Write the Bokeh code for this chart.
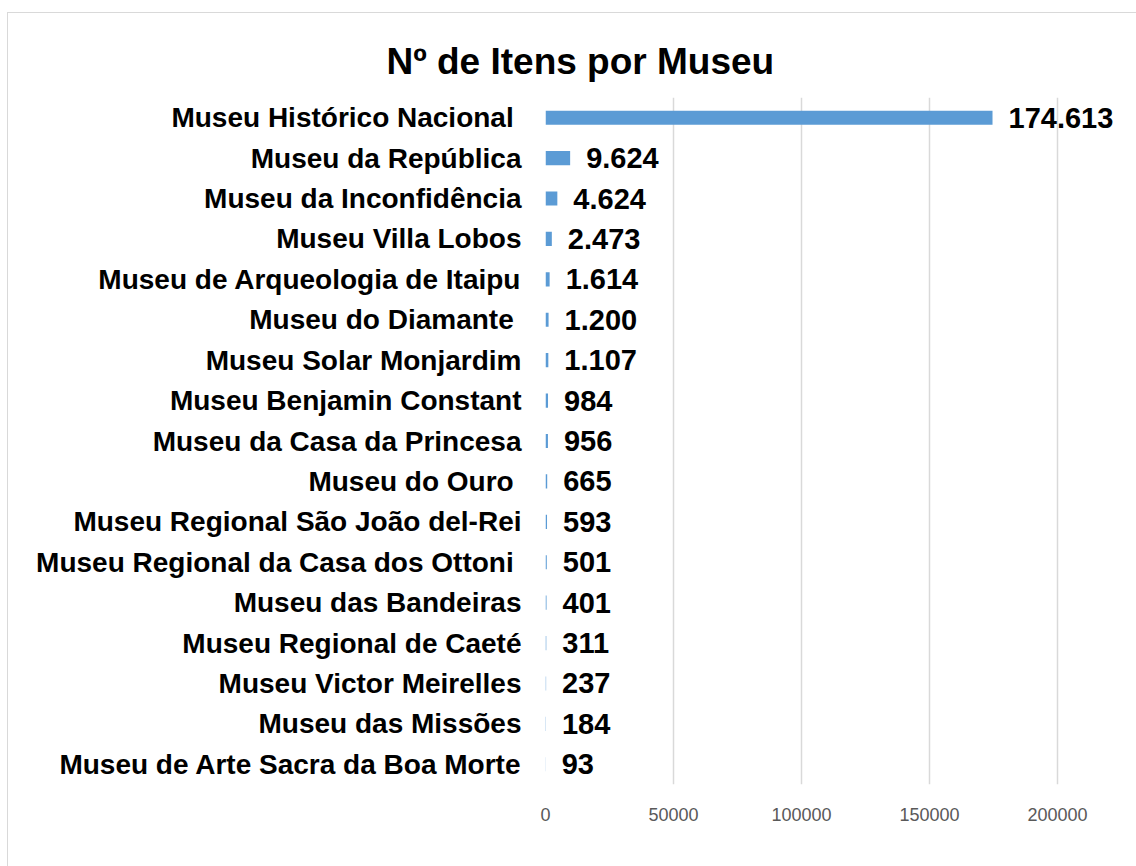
from bokeh.plotting import figure
from bokeh.models import FactorRange, Range1d, FixedTicker, ColumnDataSource, BasicTickFormatter
from bokeh.core.properties import value
from bokeh.embed import file_html
from bokeh.resources import INLINE

museums = [
    "Museu Histórico Nacional\u00a0",
    "Museu da República",
    "Museu da Inconfidência",
    "Museu Villa Lobos",
    "Museu de Arqueologia de Itaipu",
    "Museu do Diamante\u00a0",
    "Museu Solar Monjardim",
    "Museu Benjamin Constant",
    "Museu da Casa da Princesa",
    "Museu do Ouro\u00a0",
    "Museu Regional São João del-Rei",
    "Museu Regional da Casa dos Ottoni\u00a0",
    "Museu das Bandeiras",
    "Museu Regional de Caeté",
    "Museu Victor Meirelles",
    "Museu das Missões",
    "Museu de Arte Sacra da Boa Morte",
]
items = [174613, 9624, 4624, 2473, 1614, 1200, 1107, 984, 956, 665, 593, 501, 401, 311, 237, 184, 93]
x_ticks = [0, 50000, 100000, 150000, 200000]
title_text = "Nº de Itens por Museu"

labels = [f"{v:,}".replace(",", ".") for v in items]
src = ColumnDataSource(dict(museum=museums, items=items, label=labels))

FONT = "Liberation Sans"
W, H = 1129, 854
MBL, MBR, MBT, MBB = 537, 12, 84, 83

p = figure(
    width=W, height=H,
    y_range=FactorRange(factors=museums[::-1], range_padding=0),
    x_range=Range1d(0, 226560),
    output_backend="svg", toolbar_location=None,
    min_border_left=MBL, min_border_right=MBR,
    min_border_top=MBT, min_border_bottom=MBB,
    title=title_text,
)
p.margin = (12, 0, 0, 7)
p.styles = {"border-left": "1px solid #d9d9d9", "border-top": "1px solid #d9d9d9"}

p.title.align = "left"
p.title.vertical_align = "middle"
p.title.offset = 385 - 544
p.title.text_font = FONT
p.title.text_font_style = "bold"
p.title.text_font_size = "37px"
p.title.text_color = "black"
p.title.standoff = 30

p.hbar(y="museum", left=0, right="items", height=0.35, source=src,
       fill_color="#5b9bd5", line_color=None)
p.text(x="items", y="museum", text="label", source=src,
       x_offset=16, text_align="left", text_baseline="middle",
       text_font=value(FONT), text_font_style="bold", text_font_size="29px",
       text_color="black")

p.outline_line_color = None
p.ygrid.grid_line_color = None
p.xgrid.ticker = FixedTicker(ticks=x_ticks)
p.xgrid.grid_line_color = "#d9d9d9"
p.xgrid.grid_line_width = 1.5

p.xaxis.ticker = FixedTicker(ticks=x_ticks)
p.xaxis.formatter = BasicTickFormatter(use_scientific=False)
p.xaxis.axis_line_color = None
p.xaxis.major_tick_line_color = None
p.xaxis.minor_tick_line_color = None
p.xaxis.major_label_text_font = FONT
p.xaxis.major_label_text_font_size = "18px"
p.xaxis.major_label_text_color = "#595959"
p.xaxis.major_label_standoff = 17

p.yaxis.axis_line_color = None
p.yaxis.major_tick_line_color = None
p.yaxis.minor_tick_line_color = None
p.yaxis.major_label_text_font = FONT
p.yaxis.major_label_text_font_style = "bold"
p.yaxis.major_label_text_font_size = "28px"
p.yaxis.major_label_text_color = "black"
p.yaxis.major_label_standoff = 18

open("out.html", "w").write(file_html(p, INLINE))
